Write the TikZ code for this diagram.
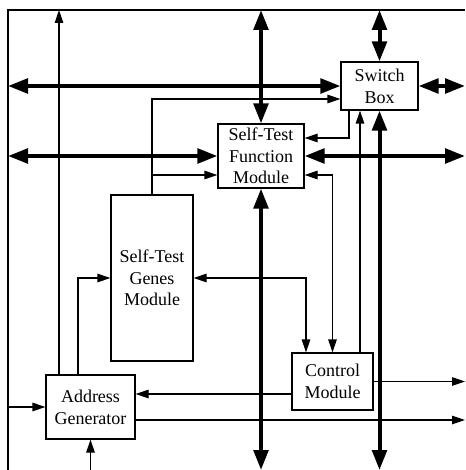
\documentclass[tikz,border=0pt]{standalone}
\usepackage{fontspec}
\setmainfont{Liberation Serif}
\usetikzlibrary{arrows.meta}
\begin{document}
\begin{tikzpicture}[x=1pt,y=-1pt,
  box/.style={draw,line width=1.2pt,align=center,inner sep=0pt,
    font=\fontsize{18}{21.7}\selectfont},
  thin/.style={line width=1.2pt,>={Triangle[length=13pt,width=8.5pt]}},
  bus/.style={line width=4pt,>={Triangle[length=20pt,width=14.5pt]}}]
\useasboundingbox (0,0) rectangle (465,470);
% frame
\draw[line width=1.6pt] (465,10) -- (8,10) -- (8,470);
% nodes
\node[box,minimum width=77pt,minimum height=48pt] (sb) at (379.5,86) {Switch\\Box};
\node[box,minimum width=86pt,minimum height=64pt] (stfm) at (261,156) {Self-Test\\Function\\Module};
\node[box,minimum width=82pt,minimum height=166pt] (stgm) at (152,278) {Self-Test\\Genes\\Module};
\node[box,minimum width=81pt,minimum height=57pt] (cm) at (332.5,381.5) {Control\\Module};
\node[box,minimum width=89pt,minimum height=64pt] (ag) at (90.5,407) {Address\\Generator};
% edge coordinates
\coordinate (fx) at (8,0);
\coordinate (rx) at (465,0);
\coordinate (ty) at (0,10);
\coordinate (by) at (0,470);
% buses
\draw[bus,<->] (sb.west -| fx) -- (sb.west);
\draw[bus,<->] (stfm.west -| fx) -- (stfm.west);
\draw[bus,<->] (stfm.north |- ty) -- (stfm.north);
\draw[bus,<->] (stfm.south) -- (stfm.south |- by);
\draw[bus,<->] (sb.north |- ty) -- (sb.north);
\draw[bus,<->] (sb.south) -- (sb.south |- by);
\draw[bus,<->] (sb.east) -- (sb.east -| rx);
\draw[bus,<->] (stfm.east) -- (stfm.east -| rx);
% thin connectors
\coordinate (sbw) at ([yshift=-13pt]sb.west);
\draw[thin,->] (stgm.north) |- (sbw);
\coordinate (fw) at ([yshift=-19pt]stfm.west);
\draw[thin,->] (fw -| stgm.north) -- (fw);
\coordinate (sbo) at ([xshift=-30.5pt]sb.south);
\coordinate (fe1) at ([yshift=18pt]stfm.east);
\draw[thin,->] (sbo) |- (fe1);
\coordinate (fe2) at ([yshift=-19pt]stfm.east);
\draw[thin,<->] (fe2) -| (cm.north);
\coordinate (cmt2) at ([xshift=27.5pt]cm.north);
\draw[thin,->] (cmt2) -- (cmt2 |- sb.south);
\coordinate (cmt1) at ([xshift=-26.5pt]cm.north);
\draw[thin,<->] (stgm.east) -| (cmt1);
\draw[thin,->] (cm.east) -- (cm.east -| rx);
\coordinate (age) at ([yshift=-13pt]ag.east);
\draw[thin,->] (age) -- (age -| rx);
\coordinate (cmw) at ([yshift=-12.5pt]cm.west);
\draw[thin,->] (cmw) -- (cmw -| ag.east);
\draw[thin,->] (ag.west -| fx) -- (ag.west);
\draw[thin,->] (ag.south |- by) -- (ag.south);
\coordinate (agt) at ([xshift=-12.5pt]ag.north);
\draw[thin,->] (agt) |- (stgm.west);
\coordinate (agt2) at ([xshift=-31.5pt]ag.north);
\draw[thin,->] (agt2) -- (agt2 |- ty);
\end{tikzpicture}
\end{document}
